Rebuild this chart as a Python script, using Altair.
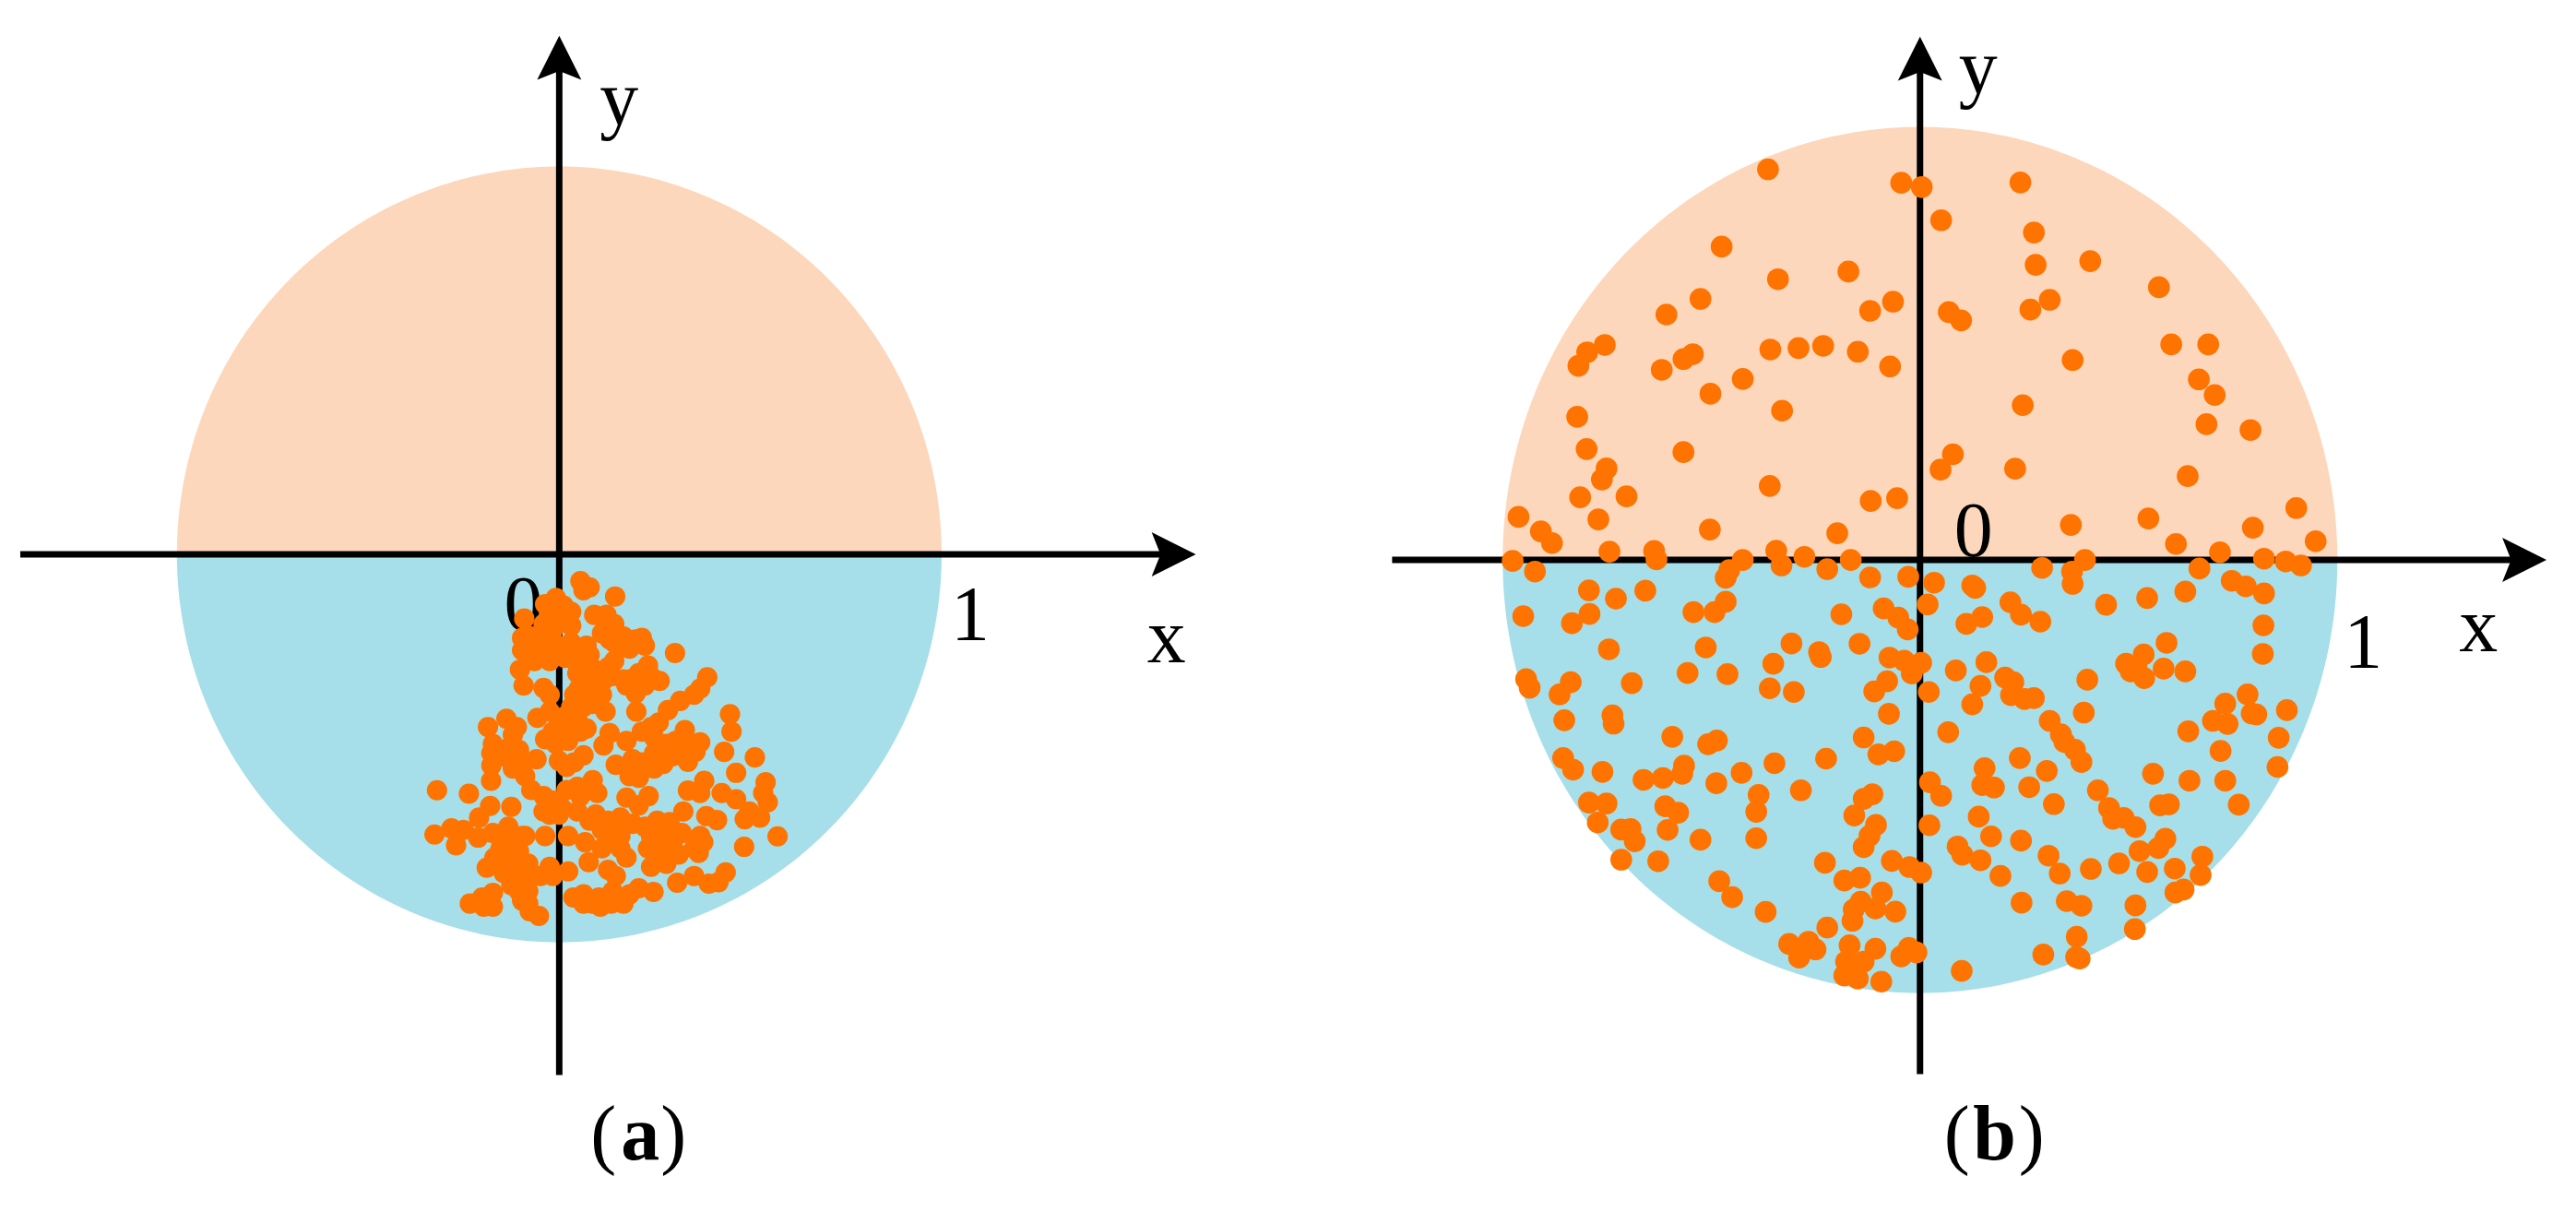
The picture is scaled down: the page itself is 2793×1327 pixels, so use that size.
import altair as alt
import numpy as np
import pandas as pd

# Points, in the reading grid of each enlarged crop
a_points = [(630,30),(660,50),(640,60),(743,80),(550,85),(515,105),(575,110),(600,130),(447,152),(530,140),(675,140),(715,140),(740,170),(600,175),(575,165),(510,170),(540,190),(440,215),(470,210),(500,230),(440,255),(480,250),(520,260),(560,240),(600,230),(650,240),(700,200),(725,220),(770,210),(810,220),(840,240),(660,270),(620,270),(938,264),(433,318),(480,290),(530,290),(580,280),(445,370),(510,378),(530,400),(620,330),(640,350),(680,320),(720,310),(740,290),(850,305),(820,330),(888,355),(780,370),(810,395),(840,370),(625,380),(610,400),(650,400),(680,395),(812,455),(712,455),(1043,343),(1020,380),(955,420),(915,450),(1000,400),(1117,463),(1122,520),(490,475),(530,455),(580,470),(620,480),(650,510),(600,510),(560,500),(389,478),(423,505),(329,505),(410,530),(725,525),(705,565),(515,545),(550,560),(590,550),(860,505),(830,520),(885,490),(970,515),(940,550),(1020,555),(780,550),(345,560),(400,570),(430,580),(340,590),(380,600),(1098,586),(1198,604),(487,610),(560,615),(640,597),(610,620),(585,635),(340,630),(745,628),(800,610),(870,590),(900,625),(980,618),(950,590),(1005,585),(410,640),(450,665),(1137,654),(339,680),(790,665),(820,670),(870,640),(470,710),(1033,680),(980,712),(1233,685),(163,711),(267,722),(670,678),(620,700),(585,710),(685,720),(630,730),(510,730),(540,745),(780,735),(852,730),(820,760),(1020,720),(1090,720),(1137,740),(1240,750),(1225,720),(336,762),(405,765),(300,800),(620,780),(570,770),(680,790),(720,810),(510,780),(965,780),(1040,795),(1075,808),(1165,805),(1215,800),(1180,780),(440,860),(395,830),(880,810),(920,815),(800,820),(760,800),(155,855),(210,835),(250,840),(297,865),(345,850),(225,890),(515,860),(590,860),(645,880),(1020,860),(1163,895),(1272,861),(720,860),(760,860),(860,860),(900,860),(940,860),(920,900),(870,910),(1015,915),(370,900),(410,880),(450,860),(400,940),(325,963),(460,950),(530,960),(590,975),(657,945),(780,930),(720,970),(745,990),(860,960),(910,950),(945,1012),(1000,990),(1048,1015),(1080,1010),(1103,978),(500,990),(540,990),(405,1020),(345,1045),(460,1040),(310,1060),(270,1080),(345,1090),(315,1090),(465,1105),(495,1120),(607,1060),(640,1080),(690,1060),(695,1090),(735,1040),(770,1080),(790,1050),(820,1030),(868,1042),
(890,850),(930,880),(880,880),(950,920),(900,930),(850,900),(840,830),(960,850),(1000,900),(1030,880),(620,300),(640,440),(600,440),(670,430),(650,300),(470,240),(540,250),(590,260),(760,240),(790,250),(830,215),(740,230),(590,500),(540,520),(630,520),(870,540),(910,560),(880,620),(930,600),(990,560),(830,620),(370,860),(390,900),(430,910),(420,960),(380,980),(440,1000),(430,1040),(480,990),(350,930),(700,840),(740,880),(700,900),(760,900),(740,840),(670,1080),(730,1080),(770,1060),(640,1050),(440,1070),(460,1080),(370,580),(440,640),(430,620),(530,790),(560,790),(660,810),(790,350),(770,350),(860,340),(730,340),(700,360),(680,350),(650,340),(700,400)]

b_points_upper = [(497,160),(724,204),(759,218),(927,203),(792,326),(950,366),(418,412),(953,471),(1046,459),(514,518),(634,493),(1163,544),(382,582),(324,633),(710,591),(671,621),(977,585),(944,617),(805,625),(826,652),(219,732),(189,756),(174,800),(369,762),(353,778),(316,813),(501,747),(549,742),(591,735),(650,754),(705,802),(1184,730),(1247,730),(1016,781),(454,843),(399,891),(1231,844),(1258,895),(172,966),(521,946),(931,928),(1244,990),(1319,1009),(188,1071),(353,1081),(812,1088),(791,1138),(222,1134),(214,1170),(918,1135),(1212,1159),(500,1191),(177,1228),(256,1225),(672,1240),(717,1231),(72,1292),(208,1300),(110,1339),(129,1377),(398,1333),(615,1345),(1013,1318),(1145,1297),(1397,1263),(1323,1327),(1192,1380),(1430,1371),(227,1405),(303,1403),(307,1430),(511,1402),(454,1432),(559,1422),(638,1432),(62,1435),(1037,1432),(1267,1407),(1342,1428),(1379,1437),(1405,1450)]

b_points_lower = [(100,60),(520,40),(598,52),(431,55),(425,80),(671,79),(736,77),(780,96),(845,105),(850,113),(964,48),(1015,60),(1016,100),(1232,50),(1287,90),(1311,108),(1342,131),(1208,125),(1143,146),(1073,168),(192,121),(238,148),(288,122),(425,158),(406,192),(370,192),(193,198),(163,228),(80,205),(622,199),(694,180),(719,210),(735,248),(769,167),(910,160),(928,200),(961,223),(862,208),(835,230),(1341,235),(226,313),(391,307),(537,294),(584,322),(587,338),(653,295),(1176,292),(1340,328),(704,340),(729,350),(758,357),(742,392),(506,360),(360,390),(428,394),(817,382),(869,355),(1208,385),(1171,376),(1137,330),(1107,360),(1115,385),(1138,407),(1125,375),(85,410),(91,438),(161,420),(142,460),(265,423),(500,440),(541,452),(700,417),(678,450),(771,452),(859,432),(845,492),(901,405),(915,420),(911,462),(934,475),(950,472),(1041,412),(1035,519),(703,523),(150,544),(232,528),(234,555),(1314,460),(1276,490),(1381,511),(1321,522),(1329,525),(1255,546),(1280,556),(977,546),(996,590),(1002,615),(1020,640),(1031,680),(804,583),(1213,580),(1367,601),(334,598),(395,622),(410,610),(660,600),(685,655),(712,645),(1268,644),(596,669),(926,667),(148,667),(165,705),(215,712),(508,684),(354,692),(351,718),(318,732),(285,738),(452,715),(409,749),(866,700),(972,709),(1153,718),(1365,696),(1215,741),(1276,741),(773,746),(792,790),(862,755),(882,763),(942,762),(1059,772),(553,772),(481,787),(675,785),(660,800),(192,812),(222,815),(207,877),(322,824),(344,845),(477,842),(644,854),(1299,819),(1078,830),(984,817),(1165,821),(1180,818),(1085,865),(1103,862),(1123,892),(681,885),(772,886),(856,858),(247,900),(263,898),(270,938),(326,901),(382,933),(477,928),(670,920),(660,957),(877,922),(928,936),(1174,930),(820,955),(828,982),(859,1000),(975,985),(1162,960),(1130,970),(1237,988),(1234,1048),(1095,1010),(1047,1028),(1190,1027),(994,1043),(1143,1038),(893,1051),(247,998),(310,1003),(594,1008),(708,1002),(738,1022),(758,1040),(414,1068),(436,1120),(627,1066),(654,1057),(1205,1095),(1191,1105),(691,1105),(655,1135),(643,1160),(680,1157),(714,1167),(493,1168),(929,1138),(1006,1133),(1031,1148),(1123,1147),(641,1197),(598,1219),(1122,1224),(1023,1249),(533,1272),(566,1265),(578,1290),(550,1317),(636,1277),(680,1288),(737,1285),(750,1300),(724,1313),(966,1307),(1022,1315),(1028,1320),(630,1330),(660,1330),(627,1375),(650,1385),(690,1395),(827,1360)]

PEACH, BLUE, ORANGE = "#FDD7BB", "#A6DFE9", "#FF7300"
FONT = "Liberation Serif"
PANEL_W, PANEL_H = 1390, 1310

# unit-circle coordinates of the points
ax = [(p[0] - 561) / 1245 for p in a_points]
ay = [-(p[1] + 57) / 1263 for p in a_points]
bx = [(p[0] - 756) / 711 for p in b_points_upper] + [(p[0] - 756) / 711 for p in b_points_lower]
by = [(1432 - p[1]) / 1410 for p in b_points_upper] + [(22 - p[1]) / 1410 for p in b_points_lower]

ARROW_R = "M1,0 L-1,-1 L-0.6,0 L-1,1 Z"
ARROW_U = "M0,-1 L-1,1 L0,0.6 L1,1 Z"


def panel(px, py, left, cx, cy, rx, ry, h_ext, v_ext, labels, caption, dot):
    to_x = lambda v: (v - cx) / rx
    to_y = lambda v: (cy - v) / ry
    xs = alt.Scale(domain=[to_x(left), to_x(left + PANEL_W)], nice=False, zero=False)
    ys = alt.Scale(domain=[to_y(8 + PANEL_H), to_y(8)], nice=False, zero=False)
    X = lambda f: alt.X(f, type="quantitative", scale=xs, axis=None)
    Y = lambda f: alt.Y(f, type="quantitative", scale=ys, axis=None)

    t = np.linspace(0, np.pi, 181)
    arc = pd.DataFrame({"x": np.cos(t), "y": np.sin(t), "y0": 0.0})
    upper = alt.Chart(arc).mark_area(color=PEACH, opacity=1).encode(X("x"), Y("y"), alt.Y2("y0"))
    lower = alt.Chart(arc.assign(y=-arc.y)).mark_area(color=BLUE, opacity=1).encode(X("x"), Y("y"), alt.Y2("y0"))

    hl = pd.DataFrame({"x": [to_x(h_ext[0])], "x2": [to_x(h_ext[1] - 20)], "y": [0.0]})
    vl = pd.DataFrame({"x": [0.0], "y": [to_y(v_ext[0] + 20)], "y2": [to_y(v_ext[1])]})
    hline = alt.Chart(hl).mark_rule(color="black", strokeWidth=7).encode(X("x"), alt.X2("x2"), Y("y"))
    vline = alt.Chart(vl).mark_rule(color="black", strokeWidth=7).encode(X("x"), Y("y"), alt.Y2("y2"))
    hh = pd.DataFrame({"x": [to_x(h_ext[1] - 24)], "y": [0.0]})
    vh = pd.DataFrame({"x": [0.0], "y": [to_y(v_ext[0] + 24)]})
    harrow = alt.Chart(hh).mark_point(shape=ARROW_R, size=2304, filled=True, color="black", opacity=1).encode(X("x"), Y("y"))
    varrow = alt.Chart(vh).mark_point(shape=ARROW_U, size=2304, filled=True, color="black", opacity=1).encode(X("x"), Y("y"))

    lab = pd.DataFrame({"t": [l[0] for l in labels], "x": [to_x(l[1]) for l in labels], "y": [to_y(l[2]) for l in labels]})
    text = alt.Chart(lab).mark_text(font=FONT, fontSize=84, color="black", align="center", baseline="alphabetic").encode(X("x"), Y("y"), text="t:N")
    layers = [upper, lower, hline, vline, harrow, varrow, text]
    for s, x0, y0, w in caption:
        c = pd.DataFrame({"t": [s], "x": [to_x(x0)], "y": [to_y(y0)]})
        layers.append(alt.Chart(c).mark_text(font=FONT, fontSize=84, fontWeight=w, color="black", align="center", baseline="alphabetic").encode(X("x"), Y("y"), text="t:N"))
    pts = pd.DataFrame({"x": px, "y": py})
    layers.append(alt.Chart(pts).mark_circle(color=ORANGE, opacity=1, size=dot).encode(X("x"), Y("y")))
    return alt.layer(*layers).properties(width=PANEL_W, height=PANEL_H)


left = panel(ax, ay, 8, 607, 601, 415, 421, (22, 1298), (38, 1166),
             [("x", 1266, 718), ("y", 672, 134), ("0", 568, 683), ("1", 1053, 694)],
             [("(", 655, 1258, "normal"), ("a", 695, 1258, "bold"), (")", 731, 1258, "normal")], 490)
right = panel(bx, by, 8 + PANEL_W, 2084, 607, 453, 470, (1511, 2764), (39, 1165),
              [("x", 2690, 706), ("y", 2147, 100), ("0", 2142, 603), ("1", 2565, 724)],
              [("(", 2124, 1258, "normal"), ("b", 2165, 1258, "bold"), (")", 2205, 1258, "normal")], 560)

chart = alt.hconcat(left, right, spacing=0).properties(padding=0).configure_view(stroke=None)
chart.save("out.html", embed_options={"renderer": "svg", "actions": False})
